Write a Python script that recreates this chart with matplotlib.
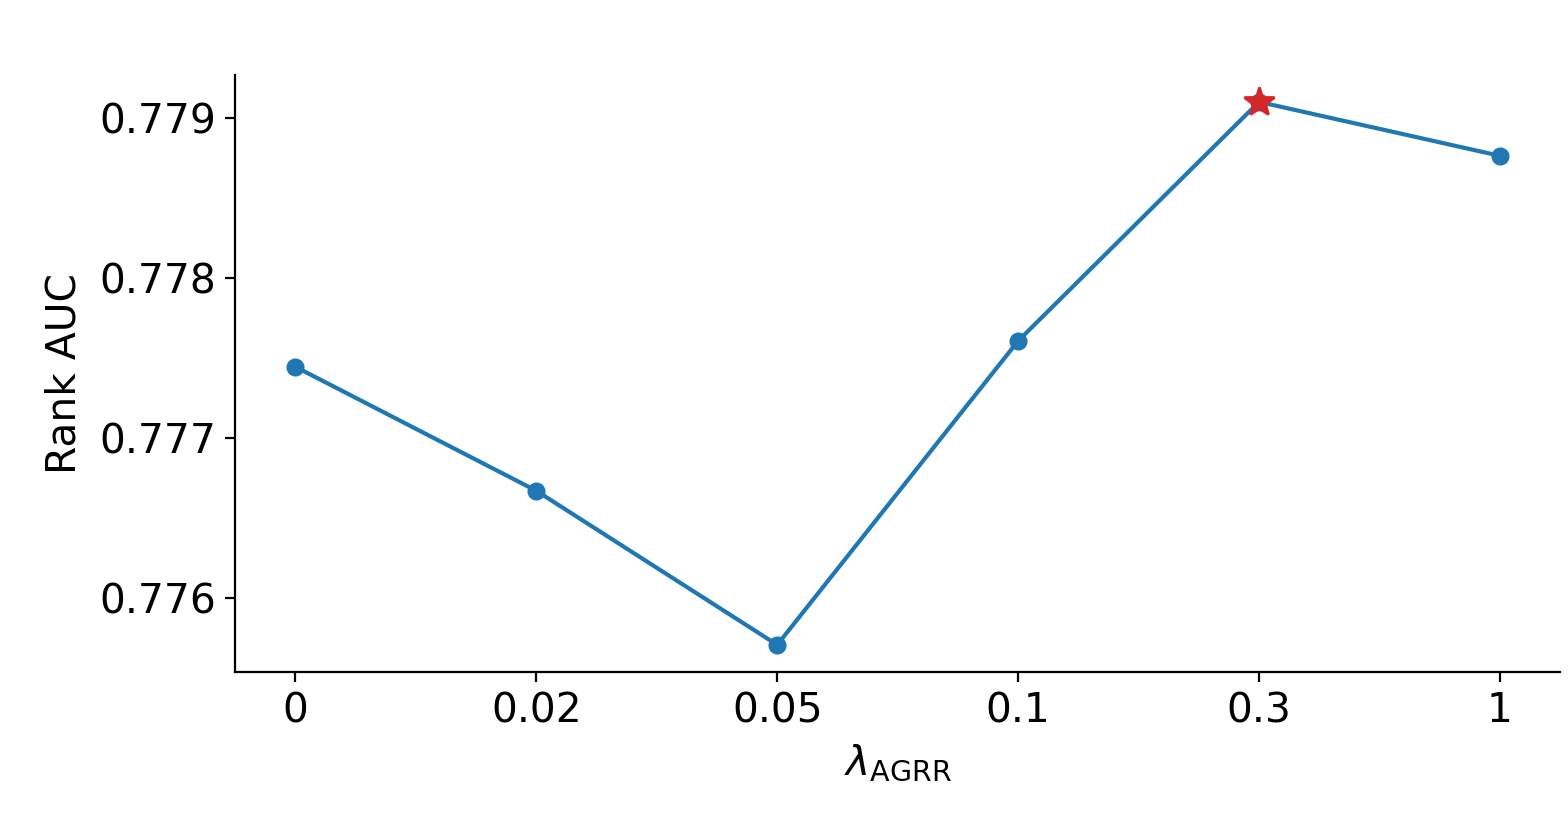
import matplotlib
matplotlib.use("Agg")
import matplotlib.pyplot as plt

# lambda values (categorical x) and Rank AUC
lambdas = ['0', '0.02', '0.05', '0.1', '0.3', '1']
rank_auc = [0.777444, 0.776669, 0.775706, 0.777606, 0.779100, 0.778763]
best_idx = 4

fig, ax = plt.subplots(figsize=(7.84, 4.2), dpi=200)
fig.subplots_adjust(left=0.15, right=0.995, bottom=0.2, top=0.911)

x = list(range(len(lambdas)))
ax.plot(x, rank_auc, '-o', color='tab:blue', lw=1.5, markersize=5.5)
ax.plot(x[best_idx], rank_auc[best_idx], '*', color='tab:red', markersize=11, zorder=3)

ax.set_xticks(x)
ax.set_xticklabels(lambdas)
ax.set_yticks([0.776, 0.777, 0.778, 0.779])
ax.tick_params(labelsize=14.7)
ax.set_xlabel(r'$\lambda_{\mathrm{AGRR}}$', fontsize=14.7, labelpad=4)
ax.set_ylabel('Rank AUC', fontsize=14.7, labelpad=5)
ax.spines['top'].set_visible(False)
ax.spines['right'].set_visible(False)

fig.savefig('out.png')
